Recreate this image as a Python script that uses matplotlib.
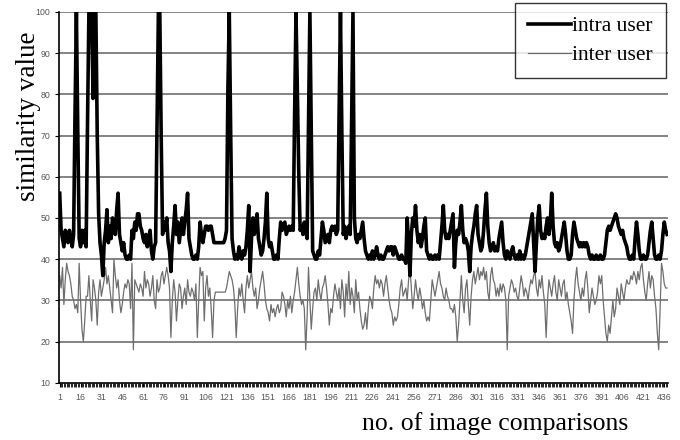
import matplotlib
matplotlib.use("Agg")
import matplotlib.pyplot as plt
import numpy as np

# similarity values, one per image comparison
intra_user = [
    56, 47, 45, 43, 47, 46, 44, 47, 45, 43, 46, 75, 100, 71, 45, 43, 47, 44, 47, 43,
    73, 100, 100, 100, 79, 100, 100, 70, 51, 44, 41, 36, 44, 47, 52, 44, 48, 45, 50, 47,
    46, 52, 56, 46, 44, 42, 44, 41, 40, 40, 41, 40, 47, 45, 49, 47, 51, 51, 48, 47,
    45, 44, 46, 43, 45, 47, 42, 40, 43, 44, 72, 100, 100, 70, 46, 49, 47, 50, 44, 42,
    37, 44, 48, 53, 46, 49, 44, 47, 50, 46, 49, 52, 56, 45, 43, 41, 40, 40, 41, 40,
    43, 49, 46, 44, 46, 48, 48, 47, 48, 48, 46, 44, 44, 44, 44, 44, 44, 44, 44, 45,
    47, 81, 100, 71, 45, 42, 40, 41, 40, 43, 41, 40, 42, 41, 43, 47, 53, 37, 45, 50,
    46, 49, 51, 45, 43, 41, 42, 45, 49, 56, 45, 43, 44, 42, 40, 40, 41, 40, 45, 49,
    47, 48, 49, 46, 47, 48, 47, 48, 47, 75, 100, 81, 61, 47, 48, 46, 49, 47, 45, 73,
    100, 71, 42, 41, 40, 40, 42, 41, 45, 49, 47, 44, 45, 46, 44, 47, 48, 47, 48, 46,
    47, 75, 100, 71, 46, 48, 45, 47, 48, 46, 73, 100, 50, 45, 44, 46, 45, 47, 49, 45,
    42, 41, 40, 41, 40, 42, 40, 41, 43, 41, 40, 41, 40, 40, 41, 42, 43, 42, 43, 43,
    41, 43, 42, 41, 40, 40, 41, 40, 40, 39, 50, 44, 36, 46, 50, 48, 53, 47, 44, 46,
    43, 45, 48, 50, 42, 41, 40, 41, 40, 40, 41, 40, 41, 40, 44, 48, 53, 47, 45, 46,
    45, 47, 49, 51, 38, 44, 47, 46, 49, 53, 47, 44, 45, 44, 42, 37, 43, 46, 48, 51,
    53, 46, 44, 42, 43, 47, 52, 56, 48, 44, 42, 43, 44, 42, 43, 42, 45, 47, 49, 44,
    41, 40, 42, 41, 40, 42, 43, 41, 40, 41, 40, 42, 40, 41, 40, 41, 43, 45, 47, 49,
    51, 44, 37, 44, 50, 53, 47, 45, 46, 45, 48, 50, 46, 49, 56, 48, 44, 43, 44, 42,
    43, 45, 47, 49, 46, 42, 40, 40, 41, 46, 49, 47, 45, 44, 43, 44, 43, 44, 43, 44,
    43, 41, 40, 41, 40, 40, 41, 40, 40, 41, 40, 40, 41, 44, 47, 48, 47, 48, 49, 50,
    51, 50, 48, 47, 46, 47, 45, 44, 43, 41, 40, 40, 41, 40, 45, 49, 46, 42, 40, 40,
    41, 40, 40, 41, 44, 47, 49, 45, 41, 40, 40, 41, 40, 42, 46, 49, 47, 46,
]

inter_user = [
    36, 33, 38, 29, 35, 39, 37, 36, 34, 31, 30, 28, 29, 27, 39, 30, 23, 20, 25, 31,
    31, 36, 30, 25, 35, 33, 30, 24, 32, 35, 31, 33, 35, 38, 34, 36, 33, 30, 27, 40,
    36, 33, 35, 30, 27, 29, 32, 34, 33, 35, 34, 28, 39, 18, 35, 34, 33, 32, 34, 33,
    31, 37, 33, 35, 34, 31, 33, 36, 30, 28, 35, 32, 33, 36, 37, 34, 36, 38, 36, 33,
    21, 30, 35, 32, 25, 30, 34, 33, 28, 31, 33, 29, 35, 32, 31, 33, 32, 30, 34, 21,
    30, 38, 36, 37, 25, 33, 36, 31, 33, 28, 21, 30, 32, 32, 32, 32, 32, 32, 32, 32,
    33, 35, 37, 36, 35, 33, 29, 21, 28, 33, 31, 34, 30, 27, 33, 36, 33, 35, 37, 33,
    31, 33, 28, 30, 33, 35, 37, 34, 30, 28, 27, 25, 29, 27, 28, 26, 28, 29, 27, 28,
    32, 31, 29, 26, 30, 28, 31, 27, 30, 32, 35, 38, 34, 31, 29, 30, 28, 18, 26, 38,
    30, 23, 28, 32, 33, 30, 35, 32, 30, 33, 34, 36, 33, 29, 24, 28, 27, 31, 34, 32,
    30, 33, 28, 35, 32, 26, 34, 30, 37, 29, 33, 31, 27, 35, 30, 32, 28, 25, 23, 24,
    27, 23, 28, 31, 30, 28, 33, 36, 34, 35, 33, 35, 34, 31, 34, 36, 33, 30, 28, 27,
    24, 26, 25, 26, 29, 33, 35, 31, 32, 33, 30, 35, 38, 33, 28, 31, 35, 32, 30, 33,
    31, 28, 30, 27, 25, 26, 25, 30, 35, 33, 31, 33, 35, 37, 34, 33, 31, 30, 33, 31,
    30, 28, 28, 27, 29, 26, 20, 24, 30, 36, 30, 27, 33, 35, 29, 24, 31, 35, 37, 34,
    36, 38, 35, 37, 36, 38, 35, 37, 32, 30, 36, 38, 35, 34, 31, 33, 31, 34, 32, 34,
    33, 30, 18, 31, 33, 35, 34, 32, 33, 31, 30, 33, 36, 34, 31, 33, 32, 30, 33, 35,
    34, 36, 37, 33, 31, 35, 33, 36, 32, 29, 21, 30, 35, 33, 31, 34, 36, 32, 30, 35,
    33, 31, 34, 35, 30, 32, 29, 27, 25, 22, 30, 35, 38, 34, 32, 30, 33, 31, 35, 37,
    33, 27, 30, 33, 31, 29, 30, 32, 36, 34, 36, 30, 26, 22, 20, 24, 22, 26, 30, 26,
    28, 33, 31, 29, 34, 32, 30, 33, 35, 34, 34, 36, 35, 37, 36, 34, 37, 35, 38, 39,
    35, 32, 30, 34, 37, 33, 36, 35, 31, 28, 22, 18, 28, 39, 37, 34, 33, 33,
]

comparisons = np.arange(1, len(intra_user) + 1)
x_tick_labels = list(range(1, 437, 15))
y_tick_labels = list(range(10, 101, 10))

fig = plt.figure(figsize=(6.8, 4.4), dpi=100)
ax = fig.add_axes([0.087, 0.13, 0.895, 0.843])

for v in y_tick_labels[1:]:
    ax.axhline(v, color="#7a7a7a", linewidth=1.3, zorder=1)

ax.plot(comparisons, inter_user, color="#6e6e6e", linewidth=0.9, zorder=2, label="inter user")
ax.plot(comparisons, intra_user, color="black", linewidth=2.6, zorder=3, label="intra user")

ax.set_xlim(0.6, len(intra_user) + 0.5)
ax.set_ylim(10, 100)
ax.set_yticks(y_tick_labels)
ax.set_xticks(x_tick_labels)
ax.set_xticks(comparisons, minor=True)
ax.tick_params(axis="both", labelsize=6.3, labelcolor="#555555", length=3, width=0.8)
ax.tick_params(axis="x", which="minor", length=3, width=0.6)
ax.tick_params(axis="x", pad=4)
for lab in ax.get_xticklabels() + ax.get_yticklabels():
    lab.set_family("Liberation Sans")

for side in ["top", "right"]:
    ax.spines[side].set_visible(False)
ax.spines["left"].set_linewidth(1.2)
ax.spines["bottom"].set_linewidth(1.2)

fig.text(0.042, 0.735, "similarity value", rotation=90, ha="center", va="center",
         family="Liberation Serif", fontsize=19.5)
fig.text(0.728, 0.038, "no. of image comparisons", ha="center", va="center",
         family="Liberation Serif", fontsize=18.5)

handles, labels = ax.get_legend_handles_labels()
leg = fig.legend(handles[::-1], labels[::-1], loc="upper right",
                 bbox_to_anchor=(0.979, 0.993), frameon=True, fancybox=False,
                 edgecolor="black", prop={"family": "Liberation Serif", "size": 15.5},
                 handlelength=2.0, handletextpad=0.05, borderpad=0.6, labelspacing=0.42,
                 borderaxespad=0.0)
leg.get_frame().set_linewidth(1.0)

fig.savefig("out.png", dpi=100, facecolor="white")
